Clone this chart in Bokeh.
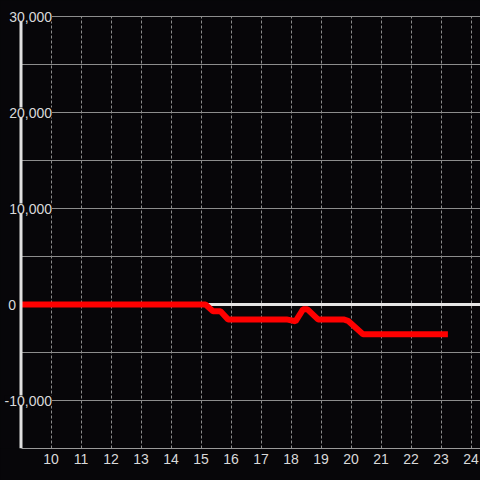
from bokeh.plotting import figure
from bokeh.models import (FixedTicker, Range1d, Grid, GlobalInlineStyleSheet)
from bokeh.core.properties import value
from bokeh.embed import file_html
from bokeh.resources import INLINE

# ---- data ----
hours = [9, 15.15, 15.4, 15.65, 15.9, 17.85, 18.15, 18.4, 18.55, 18.9, 19.75, 19.9, 20.4, 23.23]
values = [0, 0, -700, -700, -1550, -1550, -1750, -500, -500, -1550, -1550, -1700, -3100, -3100]
x_ticks = [10, 11, 12, 13, 14, 15, 16, 17, 18, 19, 20, 21, 22, 23, 24]
y_grid = [-15000, -10000, -5000, 5000, 10000, 15000, 20000, 25000, 30000]
y_label_values = [30000, 20000, 10000, 0, -10000]
y_label_texts = ["30,000", "20,000", "10,000", "0", "-10,000"]
x_start, y_min, y_max = 9, -15000, 30000

BG = "#070609"
TXT = "#d9d9d9"
GRID = "#8c8c8c"
FONT = "Liberation Sans"

W, H = 480, 480
BOTTOM = 32
frame_h = H - BOTTOM
px_per_x = 30.0
units_per_px_y = (y_max - y_min) / (frame_h - 16)
x0 = x_start - 20.5 / px_per_x
x1 = x0 + W / px_per_x
y1 = y_min + frame_h * units_per_px_y

p = figure(width=W, height=H, output_backend="svg", toolbar_location=None,
           x_range=Range1d(x0, x1), y_range=Range1d(y_min, y1),
           y_axis_location=None,
           min_border_left=0, min_border_right=0, min_border_top=0, min_border_bottom=BOTTOM,
           background_fill_color=BG, border_fill_color=BG, outline_line_color=None)
p.stylesheets = [GlobalInlineStyleSheet(css="html, body { margin: 0; padding: 0; background: #070609; overflow: hidden; }")]

# x axis
p.xaxis.ticker = FixedTicker(ticks=x_ticks)
p.xaxis.bounds = (x_start, x1)
p.xaxis.major_tick_line_color = None
p.xaxis.minor_tick_line_color = None
p.xaxis.major_tick_out = 0
p.xaxis.major_label_standoff = 5
p.xaxis.axis_line_color = "#9a9a9a"
p.xaxis.axis_line_width = 1
p.xaxis.major_label_text_color = TXT
p.xaxis.major_label_text_font = FONT
p.xaxis.major_label_text_font_size = "14px"

# grids
p.xgrid.ticker = FixedTicker(ticks=x_ticks)
p.xgrid.grid_line_color = GRID
p.xgrid.grid_line_dash = "3 2"
p.xgrid.grid_line_width = 1
p.xgrid.cross_bounds = (y_min, y_max)
for g in p.ygrid:
    g.visible = False
p.add_layout(Grid(dimension=1, ticker=FixedTicker(ticks=y_grid),
                  grid_line_color=GRID, grid_line_width=1, cross_bounds=(x_start, x1)))
# zero line
p.add_layout(Grid(dimension=1, ticker=FixedTicker(ticks=[0]),
                  grid_line_color="#e6e6e6", grid_line_width=3, cross_bounds=(x_start, x1)))

# series
p.line(hours, values, line_color="#ff0000", line_width=6)

# y axis line
p.segment(x0=[x_start], y0=[y_min], x1=[x_start], y1=[y_max], line_color="#e0e0e0", line_width=3)

# y tick labels with background boxes (drawn over axis line and grid)
label_offsets = [31 if v != 0 else -5 for v in y_label_values]
p.text(x=[x_start] * len(y_label_values), y=y_label_values, text=y_label_texts,
       x_offset=label_offsets, text_align="right", text_baseline="middle",
       text_color=TXT, text_font=value(FONT), text_font_size=value("14px"),
       background_fill_color=BG)

open("out.html", "w").write(file_html(p, INLINE))
